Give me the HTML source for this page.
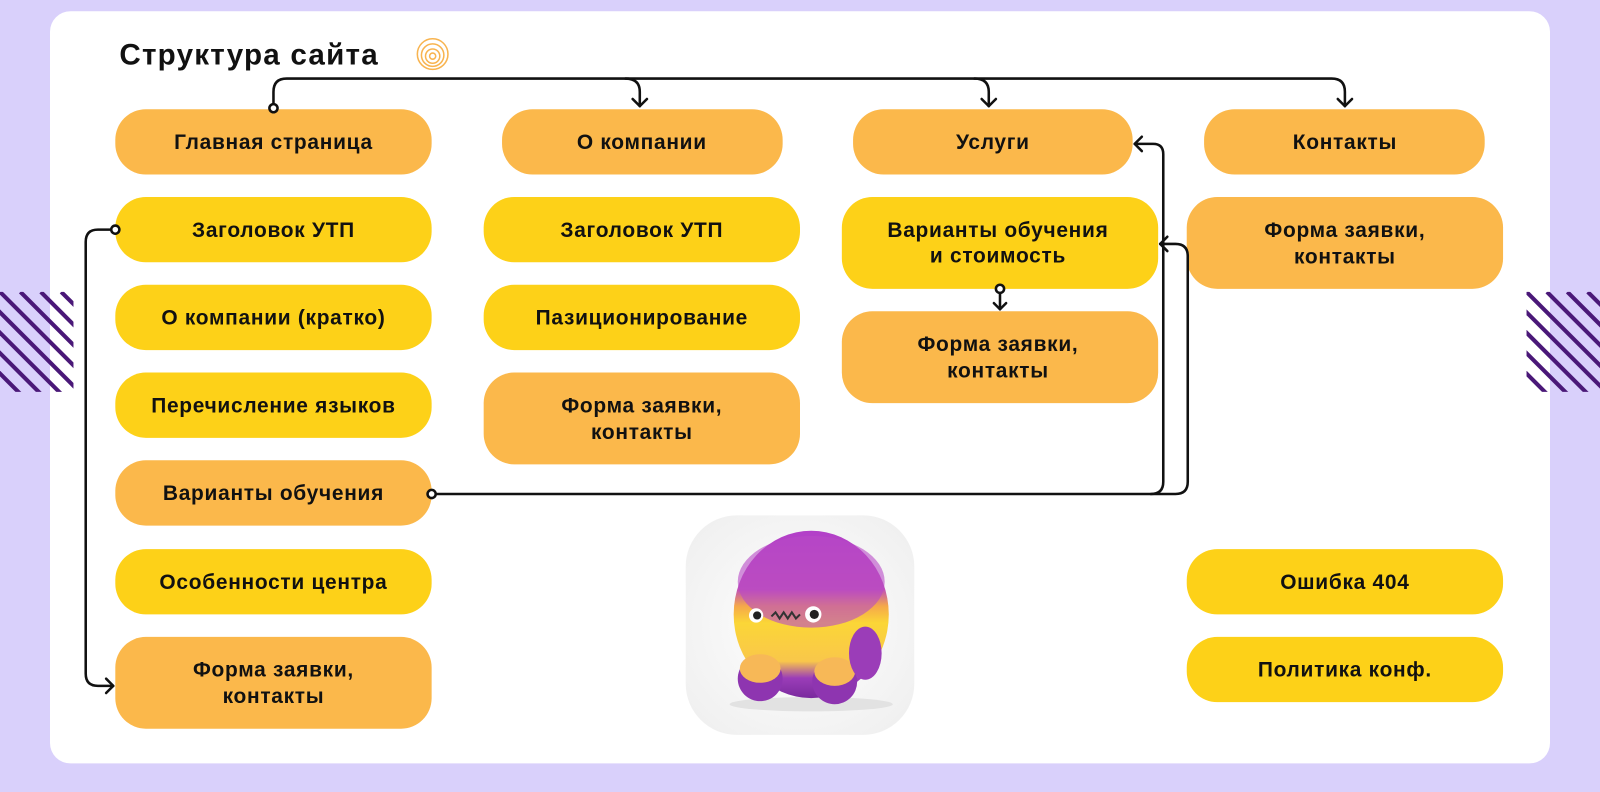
<!DOCTYPE html>
<html><head><meta charset="utf-8"><style>
html,body{margin:0;padding:0;background:#D9D0FB;}
svg{display:block}
text{font-family:"Liberation Sans",sans-serif;font-weight:bold;fill:#111;}
</style></head><body>
<svg width="1600" height="792" viewBox="0 0 1568 776" preserveAspectRatio="none" xmlns="http://www.w3.org/2000/svg">
<defs>
<linearGradient id="fur" x1="0" y1="0" x2="0" y2="1">
<stop offset="0" stop-color="#B23FC9"/><stop offset="0.35" stop-color="#C050B8"/>
<stop offset="0.45" stop-color="#F5A84A"/><stop offset="0.55" stop-color="#FBD637"/>
<stop offset="0.78" stop-color="#F9C74A"/><stop offset="0.88" stop-color="#9B3DB8"/><stop offset="1" stop-color="#7A2A9E"/>
</linearGradient>
<radialGradient id="bgm" cx="0.5" cy="0.5" r="0.7"><stop offset="0" stop-color="#ffffff"/><stop offset="1" stop-color="#EEEEEE"/></radialGradient>
<clipPath id="cl"><rect x="0" y="286" width="72" height="98"/></clipPath>
<clipPath id="cr"><rect x="1496" y="286" width="72" height="98"/></clipPath>
</defs>
<rect width="1568" height="776" fill="#D9D0FB"/>
<rect x="49" y="11" width="1470" height="737" rx="20" fill="#fff"/>
<g stroke="#4A1878" stroke-width="4" clip-path="url(#cl)">
<line x1="-60" y1="286" x2="40" y2="386"/><line x1="-40" y1="286" x2="60" y2="386"/><line x1="-20" y1="286" x2="80" y2="386"/><line x1="0" y1="286" x2="100" y2="386"/><line x1="20" y1="286" x2="120" y2="386"/><line x1="40" y1="286" x2="140" y2="386"/><line x1="60" y1="286" x2="160" y2="386"/><line x1="-80" y1="286" x2="20" y2="386"/>
</g>
<g stroke="#4A1878" stroke-width="4" clip-path="url(#cr)">
<line x1="1436" y1="286" x2="1536" y2="386"/><line x1="1456" y1="286" x2="1556" y2="386"/><line x1="1476" y1="286" x2="1576" y2="386"/><line x1="1496" y1="286" x2="1596" y2="386"/><line x1="1516" y1="286" x2="1616" y2="386"/><line x1="1536" y1="286" x2="1636" y2="386"/><line x1="1556" y1="286" x2="1656" y2="386"/><line x1="1416" y1="286" x2="1516" y2="386"/>
</g>
<text x="117" y="63" font-size="29" letter-spacing="1.2">Структура сайта</text>
<g fill="none" stroke="#F8B450" stroke-width="1.5"><circle cx="424" cy="53" r="15"/><circle cx="424" cy="54" r="11"/><circle cx="424" cy="55" r="7"/><circle cx="424" cy="55" r="3"/></g>

<g font-size="20.5" letter-spacing="0.7" text-anchor="middle">
<rect x="113" y="107" width="310" height="64" rx="30" fill="#FBB84B"/><text x="268" y="146">Главная страница</text>
<rect x="113" y="193" width="310" height="64" rx="30" fill="#FDD118"/><text x="268" y="232">Заголовок УТП</text>
<rect x="113" y="279" width="310" height="64" rx="30" fill="#FDD118"/><text x="268" y="318">О компании (кратко)</text>
<rect x="113" y="365" width="310" height="64" rx="30" fill="#FDD118"/><text x="268" y="404">Перечисление языков</text>
<rect x="113" y="451" width="310" height="64" rx="30" fill="#FBB84B"/><text x="268" y="490">Варианты обучения</text>
<rect x="113" y="538" width="310" height="64" rx="30" fill="#FDD118"/><text x="268" y="577">Особенности центра</text>
<rect x="113" y="624" width="310" height="90" rx="30" fill="#FBB84B"/><text x="268" y="663">Форма заявки,</text><text x="268" y="689">контакты</text>

<rect x="492" y="107" width="275" height="64" rx="30" fill="#FBB84B"/><text x="629" y="146">О компании</text>
<rect x="474" y="193" width="310" height="64" rx="30" fill="#FDD118"/><text x="629" y="232">Заголовок УТП</text>
<rect x="474" y="279" width="310" height="64" rx="30" fill="#FDD118"/><text x="629" y="318">Пазиционирование</text>
<rect x="474" y="365" width="310" height="90" rx="30" fill="#FBB84B"/><text x="629" y="404">Форма заявки,</text><text x="629" y="430">контакты</text>

<rect x="836" y="107" width="274" height="64" rx="30" fill="#FBB84B"/><text x="973" y="146">Услуги</text>
<rect x="825" y="193" width="310" height="90" rx="30" fill="#FDD118"/><text x="978" y="232">Варианты обучения</text><text x="978" y="257">и стоимость</text>
<rect x="825" y="305" width="310" height="90" rx="30" fill="#FBB84B"/><text x="978" y="344">Форма заявки,</text><text x="978" y="370">контакты</text>

<rect x="1180" y="107" width="275" height="64" rx="30" fill="#FBB84B"/><text x="1318" y="146">Контакты</text>
<rect x="1163" y="193" width="310" height="90" rx="30" fill="#FBB84B"/><text x="1318" y="232">Форма заявки,</text><text x="1318" y="258">контакты</text>
<rect x="1163" y="538" width="310" height="64" rx="30" fill="#FDD118"/><text x="1318" y="577">Ошибка 404</text>
<rect x="1163" y="624" width="310" height="64" rx="30" fill="#FDD118"/><text x="1318" y="663">Политика конф.</text>
</g>

<g fill="none" stroke="#111" stroke-width="2.5" stroke-linecap="round" stroke-linejoin="round">
<path d="M268 103 V90 Q268 77 281 77 H1305 Q1318 77 1318 90 V104"/>
<path d="M613 77 Q627 77 627 90 V104"/><path d="M955 77 Q969 77 969 90 V104"/>
<path d="M620 97 L627 104 L634 97"/><path d="M962 97 L969 104 L976 97"/><path d="M1311 97 L1318 104 L1325 97"/>
<path d="M110 225 H96 Q84 225 84 237 V660 Q84 672 96 672 H111"/><path d="M104 665 L111 672 L104 679"/>
<path d="M427 484 H1128 Q1140 484 1140 472 V151 Q1140 141 1130 141 H1112"/><path d="M1119 134 L1112 141 L1119 148"/>
<path d="M1128 484 H1152 Q1164 484 1164 472 V251 Q1164 239 1152 239 H1137"/><path d="M1144 232 L1137 239 L1144 246"/>
<path d="M980 286 V303"/><path d="M974 297 L980 303 L986 297"/>
</g>
<g fill="#fff" stroke="#111" stroke-width="2.5">
<circle cx="268" cy="106" r="4"/><circle cx="113" cy="225" r="4"/><circle cx="423" cy="484" r="4"/><circle cx="980" cy="283" r="4"/>
</g>

<rect x="672" y="505" width="224" height="215" rx="50" fill="url(#bgm)"/>
<ellipse cx="795" cy="690" rx="80" ry="7" fill="#e2e2e2"/>
<ellipse cx="795" cy="602" rx="76" ry="82" fill="url(#fur)"/>
<ellipse cx="795" cy="570" rx="72" ry="45" fill="#B84AC6" opacity="0.6"/>
<ellipse cx="745" cy="665" rx="22" ry="22" fill="#8E35B0"/><ellipse cx="745" cy="655" rx="20" ry="14" fill="#F7B857"/>
<ellipse cx="818" cy="668" rx="22" ry="22" fill="#8E35B0"/><ellipse cx="818" cy="658" rx="20" ry="14" fill="#F7B857"/>
<ellipse cx="848" cy="640" rx="16" ry="26" fill="#9B3DB8"/>
<circle cx="741" cy="603" r="7" fill="#fff"/><circle cx="742" cy="603" r="4" fill="#222"/>
<circle cx="797" cy="602" r="8" fill="#fff"/><circle cx="798" cy="602" r="4.5" fill="#222"/>
<path d="M756 604 l4 -4 l4 6 l4 -6 l4 6 l4 -6 l4 6 l4 -4" fill="none" stroke="#333" stroke-width="2"/>
</svg>
</body></html>
